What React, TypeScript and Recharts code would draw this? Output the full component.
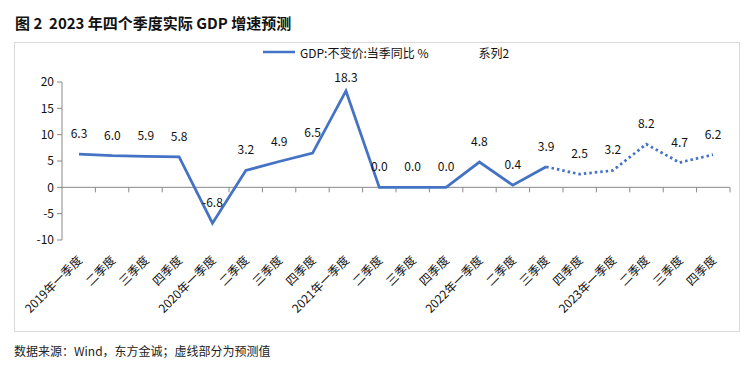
import React from "react";
import { LineChart, Line, XAxis, YAxis, ReferenceLine, LabelList } from "recharts";

const quarters = [
  "2019年一季度", "二季度", "三季度", "四季度",
  "2020年一季度", "二季度", "三季度", "四季度",
  "2021年一季度", "二季度", "三季度", "四季度",
  "2022年一季度", "二季度", "三季度", "四季度",
  "2023年一季度", "二季度", "三季度", "四季度",
];

// 实际值（实线）
const actual: (number | null)[] = [
  6.3, 6.0, 5.9, 5.8, -6.8, 3.2, 4.9, 6.5, 18.3, 0.0, 0.0, 0.0, 4.8, 0.4, 3.9,
  null, null, null, null, null,
];

// 预测值（虚线），从 2022 年三季度接上
const forecast: (number | null)[] = [
  null, null, null, null, null, null, null, null, null, null, null, null, null, null,
  3.9, 2.5, 3.2, 8.2, 4.7, 6.2,
];

const yTicks = [-10, -5, 0, 5, 10, 15, 20];

const seriesNames = ["GDP:不变价:当季同比 %", "系列2"];

const data = quarters.map((q, i) => ({ q, actual: actual[i], forecast: forecast[i] }));

const FONT = "'Noto Sans CJK SC', 'Noto Sans', sans-serif";
const BLUE = "#4472C4";
const AXIS = "#898989";

const ValueLabel = ({ x, y, value, index, skipActual }: any) => {
  if (value == null) return null;
  if (skipActual && actual[index] != null) return null;
  return (
    <text x={x} y={Math.max(y - 16, 82)} textAnchor="middle" fontSize={12} fill="#111" fontFamily={FONT}>
      {Number(value).toFixed(1)}
    </text>
  );
};

const QuarterTick = ({ x, y, payload }: any) => (
  <text
    transform={`translate(${x + 4},${y + 21}) rotate(-45)`}
    textAnchor="end"
    fontSize={12}
    fill="#111"
    fontFamily={FONT}
  >
    {payload.value}
  </text>
);

// 零轴 + 分类间隔刻度
const ZeroAxis = ({ x1, x2, y1 }: any) => {
  const step = (x2 - x1) / quarters.length;
  return (
    <g>
      <line x1={x1} x2={x2} y1={y1} y2={y1} stroke={AXIS} strokeWidth={1} />
      {quarters.map((_, i) => (
        <line key={i} x1={x1 + step * (i + 1)} x2={x1 + step * (i + 1)} y1={y1} y2={y1 + 5} stroke={AXIS} />
      ))}
    </g>
  );
};

export default function App() {
  return (
    <div style={{ position: "absolute", left: 0, top: 0, width: 753, height: 369, background: "#fff", fontFamily: FONT }}>
      <div style={{ position: "absolute", left: 15, top: 12, fontSize: 15, fontWeight: 700, color: "#111", whiteSpace: "pre" }}>
        {"图 2  2023 年四个季度实际 GDP 增速预测"}
      </div>
      <div style={{ position: "absolute", left: 14, top: 42, width: 726, height: 290, border: "1px solid #d9d9d9", boxSizing: "border-box" }} />
      <div style={{ position: "absolute", left: 263, top: 44, fontSize: 12, color: "#111", display: "flex", alignItems: "center", height: 16 }}>
        <svg width={32} height={4} style={{ marginRight: 5 }}>
          <line x1={0} x2={32} y1={2} y2={2} stroke={BLUE} strokeWidth={2.5} />
        </svg>
        <span>{seriesNames[0]}</span>
        <span style={{ marginLeft: 50 }}>{seriesNames[1]}</span>
      </div>
      <div style={{ position: "absolute", left: 14, top: 342, fontSize: 12, color: "#222" }}>
        数据来源：Wind，东方金诚；虚线部分为预测值
      </div>
      <div style={{ position: "absolute", left: 0, top: 0 }}>
        <LineChart width={753} height={369} data={data} margin={{ top: 82, right: 23, left: 22, bottom: 49 }}>
          <XAxis
            dataKey="q"
            interval={0}
            axisLine={false}
            tickLine={false}
            tickSize={0}
            tickMargin={0}
            height={80}
            padding={{ left: 17, right: 17 }}
            tick={<QuarterTick />}
          />
          <YAxis
            domain={[-10, 20]}
            ticks={yTicks}
            width={40}
            tickSize={5}
            tickMargin={3}
            axisLine={{ stroke: AXIS }}
            tickLine={{ stroke: AXIS }}
            tick={{ fontSize: 12, fill: "#111", fontFamily: FONT }}
          />
          <ReferenceLine y={0} shape={<ZeroAxis />} />
          <Line
            dataKey="actual"
            name={seriesNames[0]}
            stroke={BLUE}
            strokeWidth={2.75}
            dot={false}
            isAnimationActive={false}
          >
            <LabelList dataKey="actual" content={<ValueLabel />} />
          </Line>
          <Line
            dataKey="forecast"
            name={seriesNames[1]}
            stroke={BLUE}
            strokeWidth={2.75}
            strokeDasharray="2.5 3"
            dot={false}
            isAnimationActive={false}
          >
            <LabelList dataKey="forecast" content={<ValueLabel skipActual />} />
          </Line>
        </LineChart>
      </div>
    </div>
  );
}
